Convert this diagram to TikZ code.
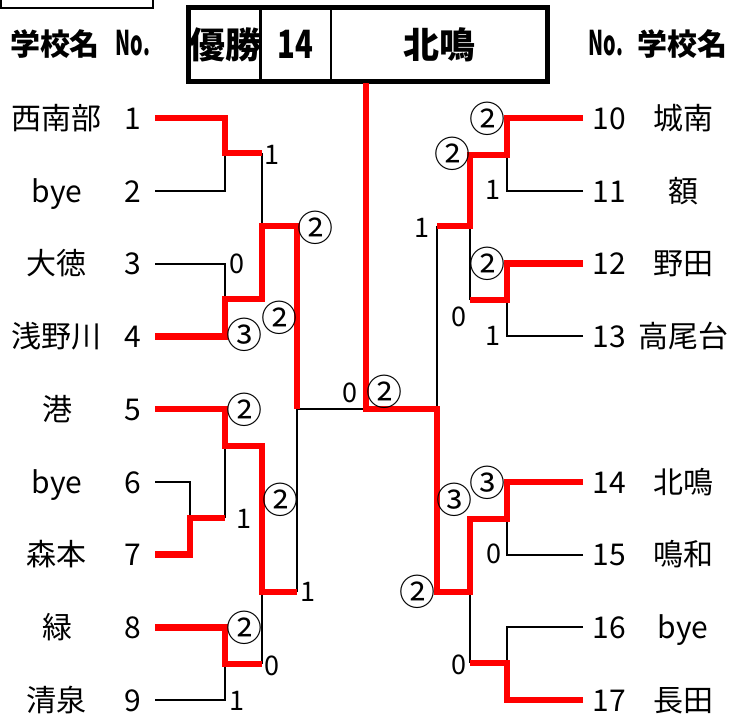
\documentclass[tikz,border=0pt]{standalone}
\usepackage{fontspec}
\setmainfont{Noto Sans CJK JP}
\usepackage{tikz}
\definecolor{winred}{RGB}{255, 0, 0}

\newcommand{\teamfs}{\fontsize{30}{34}\selectfont}
\newcommand{\titlefs}{\fontsize{36}{40}\selectfont}
\newcommand{\scorefs}{\fontsize{27}{30}\selectfont}
\newcommand{\circfs}{\fontsize{36}{40}\selectfont}
\newcommand{\nomark}{\scalebox{0.58}[1]{\fontsize{34}{38}\selectfont No.}}

\begin{document}
\begin{tikzpicture}[x=1pt, y=-1pt, thick,
    lost/.style={draw=black, line width=2pt},
    won/.style={draw=winred, line width=6.5pt},
    team/.style={font=\teamfs, inner sep=0pt, text height=26.4pt, text depth=3.6pt},
    head/.style={team, font=\teamfs\bfseries},
    cell/.style={draw, line width=1.5pt, inner sep=0pt, minimum height=73, font=\titlefs\bfseries},
    score/.style={font=\scorefs, inner sep=0pt}]

  \useasboundingbox (0, 0) rectangle (729, 715);

  \draw[line width=2pt] (1, 0) |- (153, 8) -- (153, 0);

  \node[cell, minimum width=70] (cwin) at (225, 44.5) {優勝};
  \node[cell, minimum width=71] (cno) at (295.5, 44.5) {\scalebox{0.75}[1]{\fontsize{39}{42}\selectfont 14}};
  \node[cell, minimum width=216] (cname) at (439, 44.5) {北鳴};
  \draw[line width=5pt] (cwin.north west) rectangle (cname.south east);

  \node[head] (lhname) at (55, 44) {学校名};
  \node[head] (lhno) at (133, 44) {\nomark};
  \node[head] (rhno) at (606, 44) {\nomark};
  \node[head] (rhname) at (682, 44) {学校名};

  \foreach \name [count=\i] in {西南部, bye, 大徳, 浅野川, 港, bye, 森本, 緑, 清泉} {
    \pgfmathsetmacro{\yy}{118 + (\i - 1) * 72.75}
    \node[team] (lname\i) at (57, \yy) {\name};
    \node[team] (lnum\i) at (133, \yy) {\i};
    \coordinate (t\i) at (155, \yy);
  }
  \foreach \k/\row/\name in {10/1/城南, 11/2/額, 12/3/野田, 13/4/高尾台,
      14/6/北鳴, 15/7/鳴和, 16/8/bye, 17/9/長田} {
    \pgfmathsetmacro{\yy}{118 + (\row - 1) * 72.75}
    \node[team, anchor=west] (rnum\k) at (592, \yy) {\k};
    \node[team] (rname\k) at (683, \yy) {\name};
    \coordinate (t\k) at (583, \yy);
  }

  % left half
  \coordinate (a1) at (225, 153); \coordinate (b1) at (262, 153);
  \coordinate (a2) at (225, 299); \coordinate (b2) at (262, 299);
  \coordinate (c1) at (262, 226); \coordinate (d1) at (297, 226);
  \coordinate (a3) at (190, 518); \coordinate (b3) at (225, 518);
  \coordinate (a4) at (225, 446); \coordinate (b4) at (262, 446);
  \coordinate (a5) at (225, 664); \coordinate (b5) at (262, 664);
  \coordinate (c2) at (262, 592); \coordinate (d2) at (297, 592);
  \coordinate (e1) at (297, 409); \coordinate (f) at (366, 409);
  \coordinate (top) at (366, 83);
  % right half
  \coordinate (g) at (437, 409);
  \coordinate (r1) at (507, 155); \coordinate (s1) at (470, 155);
  \coordinate (r2) at (507, 300); \coordinate (s2) at (470, 300);
  \coordinate (q1) at (470, 226); \coordinate (p1) at (437, 226);
  \coordinate (r3) at (507, 519); \coordinate (s3) at (470, 519);
  \coordinate (r4) at (507, 663); \coordinate (s4) at (470, 663);
  \coordinate (q2) at (470, 592); \coordinate (p2) at (437, 592);

  \draw[lost] (t2) -| (a1);  \draw[lost] (b1) -- (c1);
  \draw[lost] (t3) -| (a2);  \draw[lost] (t6) -| (a3);
  \draw[lost] (b3) -- (a4);  \draw[lost] (t9) -| (a5);
  \draw[lost] (b5) -- (c2);  \draw[lost] (d2) -- (e1) -- (f);
  \draw[lost] (t11) -| (r1); \draw[lost] (t13) -| (r2);
  \draw[lost] (s2) -- (q1);  \draw[lost] (p1) -- (g);
  \draw[lost] (t15) -| (r3); \draw[lost] (t16) -| (r4);
  \draw[lost] (s4) -- (q2);

  \draw[won] (t1) -| (a1) -- (b1);
  \draw[won] (t4) -| (a2) -- (b2) -- (c1) -- (d1) -- (e1);
  \draw[won] (t7) -| (a3) -- (b3);
  \draw[won] (t5) -| (a4) -- (b4) -- (c2) -- (d2);
  \draw[won] (t8) -| (a5) -- (b5);
  \draw[won] (t10) -| (r1) -- (s1) -- (q1) -- (p1);
  \draw[won] (t12) -| (r2) -- (s2);
  \draw[won] (t17) -| (r4) -- (s4);
  \draw[won] (t14) -| (r3) -- (s3) -- (q2) -- (p2) -- (g) -- (f) -- (top);

  \foreach \x/\y/\t [count=\k] in {272/155/1, 237/264/0, 244/519/1, 308/592/1,
      272/666/0, 237/701/1, 350/393/0, 493/190/1, 493/336/1, 459/317/0,
      422/228/1, 494/554/0, 459/665/0}
    \node[score] (sd\k) at (\x, \y) {\t};
  \foreach \x/\y/\t [count=\k] in {244/335/③, 279/318/②, 315/228/②, 244/410/②,
      280/500/②, 244/628/②, 384/392/②, 487/119/②, 452/154/②, 487/264/②,
      487/483/③, 454/500/③, 417/592/②}
    \node[score, font=\circfs] (sc\k) at (\x, \y) {\t};

\end{tikzpicture}
\end{document}
